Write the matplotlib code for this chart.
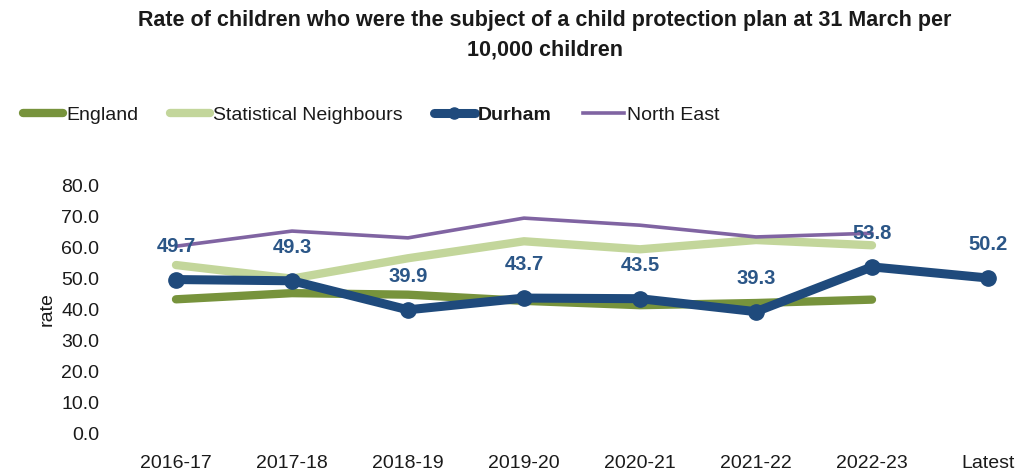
import matplotlib.pyplot as plt
from matplotlib.lines import Line2D

years = ['2016-17', '2017-18', '2018-19', '2019-20', '2020-21', '2021-22', '2022-23', 'Latest']
england = [43.3, 45.3, 44.8, 42.8, 41.4, 42.1, 43.2]
stat_neighbours = [54.4, 50.0, 56.6, 62.1, 59.5, 62.5, 60.8]
durham = [49.7, 49.3, 39.9, 43.7, 43.5, 39.3, 53.8, 50.2]
north_east = [60.5, 65.4, 63.2, 69.6, 67.3, 63.5, 64.7]

plt.rcParams['font.family'] = ['Liberation Sans Narrow', 'Liberation Sans', 'DejaVu Sans']

c_eng = '#77933C'
c_sn = '#C3D69B'
c_dur = '#1F4A7C'
c_ne = '#8064A2'
c_lab = '#2B5687'

fig = plt.figure(figsize=(10.18, 4.73), dpi=100)
W, H = 1018, 473
left, right, top, bottom = 112, 1010, 186, 433
ax = fig.add_axes([left / W, 1 - bottom / H, (right - left) / W, (bottom - top) / H])

x = list(range(len(years)))
n = len(england)
ax.plot(x[:n], stat_neighbours, color=c_sn, lw=6, solid_capstyle='round', zorder=2)
ax.plot(x[:n], england, color=c_eng, lw=6, solid_capstyle='round', zorder=3)
ax.plot(x[:n], north_east, color=c_ne, lw=2.6, solid_capstyle='round', zorder=4)
ax.plot(x, durham, color=c_dur, lw=6.5, marker='o', ms=11, solid_capstyle='round',
        zorder=5, clip_on=False)

for xi, v in zip(x, durham):
    ax.annotate('%.1f' % v, (xi, v), xytext=(0, 17), textcoords='offset points',
                ha='center', va='bottom', fontsize=14.5, fontweight='bold', color=c_lab, zorder=6)

ppu = (988 - 176) / 7
ax.set_xlim(-(176 - left) / ppu, 7 + (right - 988) / ppu)
ax.set_ylim(0, 80)
ax.set_yticks(range(0, 81, 10))
ax.set_yticklabels(['%.1f' % t for t in range(0, 81, 10)])
ax.set_xticks(x)
ax.set_xticklabels(years)
ax.tick_params(axis='both', length=0, labelsize=14, colors='#1a1a1a')
ax.tick_params(axis='y', pad=9)
ax.tick_params(axis='x', pad=16)
for s in ax.spines.values():
    s.set_visible(False)
ax.set_ylabel('rate', fontsize=14, color='#1a1a1a', labelpad=4)

fig.text(0.535, 0.978, 'Rate of children who were the subject of a child protection plan at 31 March per\n10,000 children',
         ha='center', va='top', fontsize=15.5, fontweight='bold', color='#1a1a1a', linespacing=1.5)

handles = [
    Line2D([], [], color=c_eng, lw=6, solid_capstyle='round'),
    Line2D([], [], color=c_sn, lw=6, solid_capstyle='round'),
    Line2D([], [], color=c_dur, lw=6.5, marker='o', ms=8, solid_capstyle='round'),
    Line2D([], [], color=c_ne, lw=2.6),
]
leg = fig.legend(handles, ['England', 'Statistical Neighbours', 'Durham', 'North East'],
                 loc='center left', bbox_to_anchor=(0.005, 1 - 115 / H), ncol=4, frameon=False,
                 fontsize=14, handlelength=2.1, handletextpad=0.15, columnspacing=1.6)
for t in leg.get_texts():
    t.set_color('#1a1a1a')
leg.get_texts()[2].set_fontweight('bold')

fig.savefig('out.png', dpi=100)
